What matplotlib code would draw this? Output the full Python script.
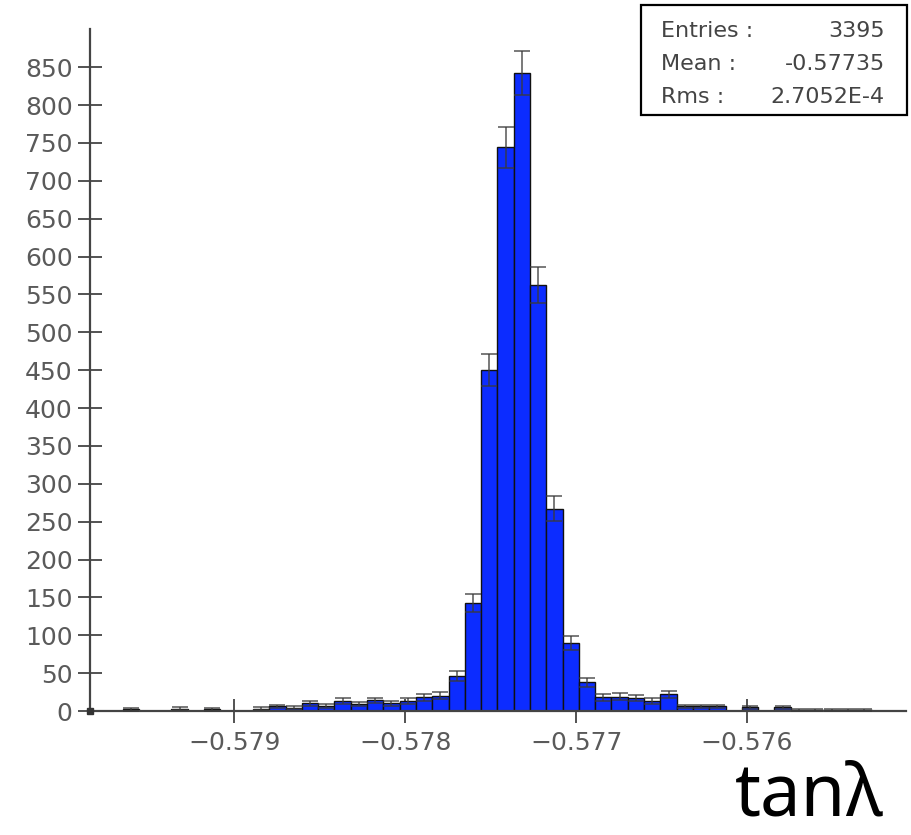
import numpy as np
import matplotlib
matplotlib.use("Agg")
import matplotlib.pyplot as plt

# ---- Data ----
# bin range (tan lambda) and counts per bin
bin_lo = -0.579654
bin_hi = -0.575267
counts = [2, 0, 0, 3, 0, 2, 0, 0, 3,
          6, 4, 10, 7, 13, 9, 14, 10, 13,
          18, 20, 46, 142, 450, 744, 842, 563, 267, 90, 38,
          18, 19, 17, 13, 22, 6, 6, 6, 0, 5, 0, 5, 1, 1, 1, 1, 1]

x_ticks = [-0.579, -0.578, -0.577, -0.576]
y_ticks = list(range(0, 851, 50))

stats_labels = ["Entries :", "Mean :", "Rms :"]
stats_values = ["3395", "-0.57735", "2.7052E-4"]

# ---- Prepare bins ----
counts = np.array(counts, dtype=float)
edges = np.linspace(bin_lo, bin_hi, len(counts) + 1)
centers = 0.5 * (edges[:-1] + edges[1:])
widths = np.diff(edges)
nz = counts > 0

# ---- Plot ----
fig = plt.figure(figsize=(9.12, 8.35), dpi=100)
ax = fig.add_axes([0.0987, 0.1485, 0.8947, 0.8164])

ax.bar(edges[:-1][nz], counts[nz], width=widths[nz], align="edge",
       color="#0c2cff", edgecolor="#111111", linewidth=1.0, zorder=2)
ax.errorbar(centers[nz], counts[nz], yerr=np.sqrt(counts[nz]), fmt="none",
            ecolor="#3a3a3a", elinewidth=1.2, capsize=5.5, capthick=1.2,
            alpha=0.8, zorder=3)

ax.set_xlim(-0.5798444, -0.5750696)
ax.set_ylim(0, 900)
ax.set_xticks(x_ticks)
ax.set_xticklabels([f"{v:.3f}".replace("-", "\u2212") for v in x_ticks])
ax.set_yticks(y_ticks)

for s in ["top", "right"]:
    ax.spines[s].set_visible(False)
for s in ["left", "bottom"]:
    ax.spines[s].set_color("#444444")
    ax.spines[s].set_linewidth(1.6)

ax.tick_params(axis="both", direction="inout", length=17, width=1.3,
               color="#444444", labelcolor="#5a5a5a", labelsize=18)
ax.tick_params(axis="y", pad=4)
ax.tick_params(axis="x", pad=6)

# small square at the origin
ax.plot([ax.get_xlim()[0]], [0], marker="s", ms=4, color="#333333",
        clip_on=False, zorder=4)

# ---- Stats box ----
box = plt.Rectangle((641 / 912, 1 - 115 / 835), 266 / 912, 110 / 835,
                    transform=fig.transFigure, fill=False,
                    edgecolor="black", linewidth=1.6)
fig.add_artist(box)
rows_y = [31, 64, 97]
for lab, val, yy in zip(stats_labels, stats_values, rows_y):
    fig.text(661 / 912, 1 - yy / 835, lab, ha="left", va="center",
             fontsize=16, color="#444444")
    fig.text(885 / 912, 1 - yy / 835, val, ha="right", va="center",
             fontsize=16, color="#444444")

# axis title in the bottom right corner
fig.text(884 / 912, 2 / 835, "tan\u03bb", ha="right", va="bottom",
         fontsize=52, family="Noto Sans", color="black")

plt.savefig("out.png", dpi=100)
plt.close()
